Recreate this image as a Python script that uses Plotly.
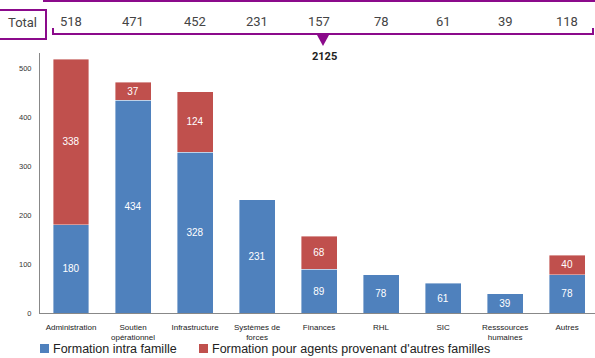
import plotly.graph_objects as go

categories = ["Administration", "Soutien<br>opérationnel", "Infrastructure",
              "Systèmes de<br>forces", "Finances", "RHL", "SIC",
              "Resssources<br>humaines", "Autres"]
intra_famille = [180, 434, 328, 231, 89, 78, 61, 39, 78]
autres_familles = [338, 37, 124, None, 68, None, None, None, 40]
series_names = ["Formation intra famille",
                "Formation pour agents provenant d'autres familles"]

totals = [a + (b or 0) for a, b in zip(intra_famille, autres_familles)]
grand_total = sum(totals)

BLUE = "#4F81BD"
RED = "#C0504D"
PURPLE = "#8B0A8B"

W, H = 595, 358
L, R, T, B = 40, 0, 53, 45
PW, PH = W - L - R, H - T - B


def px_x(p):
    return (p - L) / PW


def px_y(p):
    return (H - B - p) / PH


fig = go.Figure()
for vals, name, color in [(intra_famille, series_names[0], BLUE),
                          (autres_familles, series_names[1], RED)]:
    fig.add_trace(go.Bar(
        x=categories, y=vals, name=name,
        marker=dict(color=color, line=dict(color="rgba(255,255,255,0.5)", width=0.8)),
        text=[str(v) if v else "" for v in vals], textposition="inside",
        insidetextanchor="middle", textangle=0,
        textfont=dict(color="white", size=10, family="Liberation Sans"),
        showlegend=False,
    ))

# Header row of totals per category
for c, t in zip(categories, totals):
    fig.add_annotation(x=c, xref="x", y=px_y(22), yref="paper", text=str(t),
                       xanchor="center", yanchor="middle", showarrow=False,
                       font=dict(size=13, color="#444", family="Roboto"))
fig.add_annotation(x=px_x(22), xref="paper", y=px_y(23), yref="paper", text="Total",
                   xanchor="center", yanchor="middle", showarrow=False,
                   font=dict(size=13, color="#444", family="Roboto"))
fig.add_annotation(x=px_x(324), xref="paper", y=px_y(57), yref="paper",
                   text="<b>%d</b>" % grand_total, xanchor="center", yanchor="middle",
                   showarrow=False, font=dict(size=11, color="#222", family="Roboto"))

line = dict(color=PURPLE, width=2)
shapes = [
    # frame around the "Total" label
    dict(type="path", path="M %f,%f L %f,%f L %f,%f L %f,%f" % (
        px_x(-2), px_y(10), px_x(46), px_y(10), px_x(46), px_y(39), px_x(-2), px_y(39)),
        line=line),
    # top rule
    dict(type="line", x0=px_x(43), x1=px_x(596), y0=px_y(1), y1=px_y(1), line=line),
    # bracket under the totals
    dict(type="path", path="M %f,%f L %f,%f L %f,%f L %f,%f" % (
        px_x(53), px_y(28), px_x(53), px_y(34), px_x(593), px_y(34), px_x(593), px_y(28)),
        line=line),
    # down arrow pointing to the grand total
    dict(type="path", path="M %f,%f L %f,%f L %f,%f Z" % (
        px_x(317), px_y(35), px_x(329), px_y(35), px_x(323), px_y(46)),
        fillcolor=PURPLE, line=dict(color=PURPLE, width=0)),
]

# Legend: colour swatch followed by series name
legend_items = [(40, BLUE, series_names[0]), (199, RED, series_names[1])]
for x0, color, name in legend_items:
    shapes.append(dict(type="rect", x0=px_x(x0), x1=px_x(x0 + 9),
                       y0=px_y(344), y1=px_y(353), fillcolor=color,
                       line=dict(width=0)))
    fig.add_annotation(x=px_x(x0 + 11), xref="paper", y=px_y(348.5), yref="paper",
                       text=name, xanchor="left", yanchor="middle", showarrow=False,
                       font=dict(size=12.5, color="#222", family="Liberation Sans"))

for s in shapes:
    s.update(xref="paper", yref="paper")
fig.update_layout(shapes=shapes)

fig.update_layout(
    width=W, height=H, margin=dict(l=L, r=R, t=T, b=B, pad=0, autoexpand=False),
    barmode="stack", bargap=0.42,
    plot_bgcolor="white", paper_bgcolor="white",
    font=dict(family="Liberation Sans", color="#222"),
    xaxis=dict(showline=True, linecolor="#888", linewidth=1, ticks="",
               range=[-0.5, 8.45], tickfont=dict(size=8, color="#222"),
               showgrid=False, ticklabelstandoff=6),
    yaxis=dict(showline=True, linecolor="#888", linewidth=1, ticks="",
               range=[0, 530.6], dtick=100, showgrid=False, zeroline=False,
               tickfont=dict(size=7.5, color="#333"), ticklabelstandoff=6),
    showlegend=False,
)

fig.write_html("out.html")
